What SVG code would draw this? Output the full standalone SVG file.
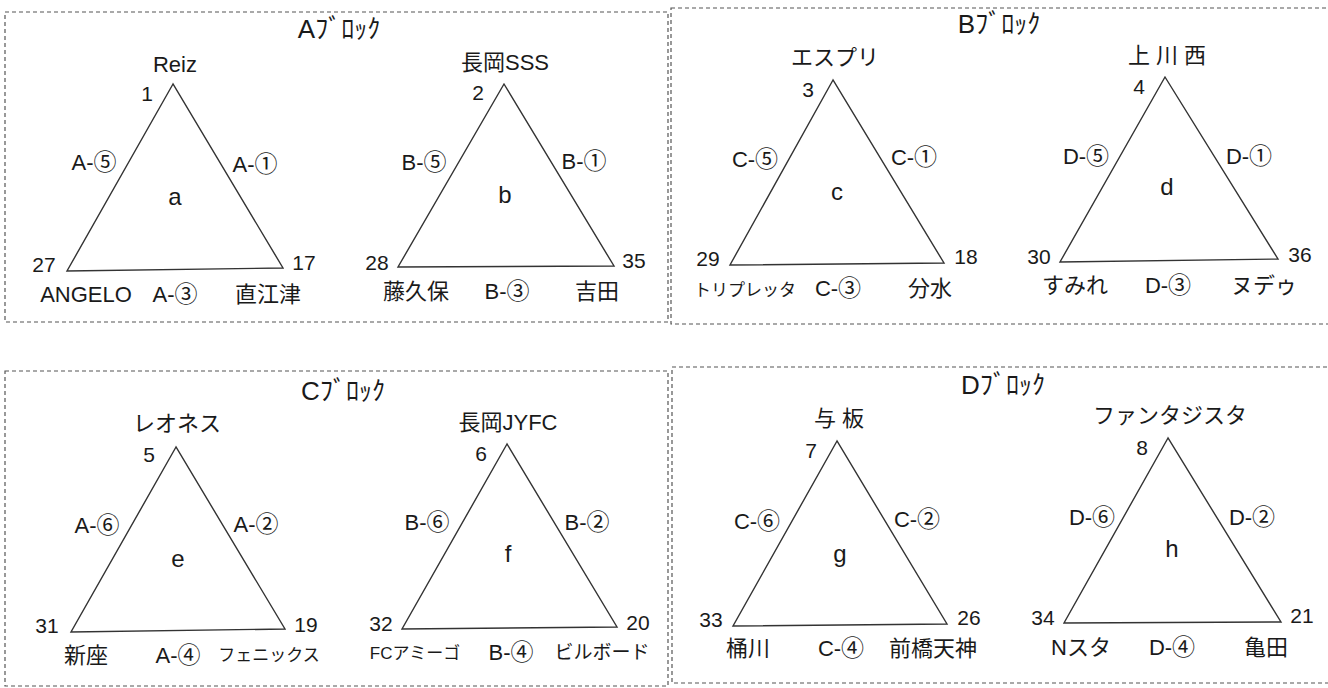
<svg xmlns="http://www.w3.org/2000/svg" width="1328" height="688" viewBox="0 0 1328 688">
<style>
  text { font-family: "Liberation Sans", "Noto Sans CJK JP", sans-serif; fill: #1a1a1a; text-anchor: middle; font-size: 22px; }
  .title { font-size: 26px; }
  .num { font-size: 21px; }
  .small { font-size: 17px; }
  .letter { font-size: 24px; }
  .c { font-size: 23px; }
  .box { fill: none; stroke: #555; stroke-width: 1.2; stroke-dasharray: 4 3; }
  .tri { fill: none; stroke: #333; stroke-width: 1.4; stroke-linejoin: miter; }
</style>
<rect width="1328" height="688" fill="#fff"/>

<g id="blockA">
  <rect class="box" x="5" y="12" width="663" height="310"/>
  <text class="title" x="339" y="38">Aﾌﾞﾛｯｸ</text>
  <g id="tri-a">
    <polygon class="tri" points="173,84 67,271 283,268"/>
    <text x="175" y="72">Reiz</text>
    <text class="num" x="147" y="101">1</text>
    <text class="num" x="44" y="272">27</text>
    <text class="num" x="304" y="270">17</text>
    <text x="94" y="170">A-<tspan class="c">⑤</tspan></text>
    <text x="255" y="172">A-<tspan class="c">①</tspan></text>
    <text class="letter" x="175" y="205">a</text>
    <text x="86" y="302">ANGELO</text>
    <text x="175" y="302">A-<tspan class="c">③</tspan></text>
    <text x="268" y="302">直江津</text>
  </g>
  <g id="tri-b">
    <polygon class="tri" points="504,84 398,267 614,266"/>
    <text x="505" y="70">長岡SSS</text>
    <text class="num" x="478" y="100">2</text>
    <text class="num" x="377" y="270">28</text>
    <text class="num" x="634" y="268">35</text>
    <text x="424" y="170">B-<tspan class="c">⑤</tspan></text>
    <text x="584" y="169">B-<tspan class="c">①</tspan></text>
    <text class="letter" x="505" y="203">b</text>
    <text x="416" y="299">藤久保</text>
    <text x="507" y="299">B-<tspan class="c">③</tspan></text>
    <text x="597" y="299">吉田</text>
  </g>
</g>

<g id="blockB">
  <rect class="box" x="671" y="8" width="665" height="316"/>
  <text class="title" x="999" y="33">Bﾌﾞﾛｯｸ</text>
  <g id="tri-c">
    <polygon class="tri" points="833,80 730,265 944,263"/>
    <text x="835" y="65">エスプリ</text>
    <text class="num" x="808" y="97">3</text>
    <text class="num" x="708" y="266">29</text>
    <text class="num" x="966" y="264">18</text>
    <text x="755" y="167">C-<tspan class="c">⑤</tspan></text>
    <text x="914" y="165">C-<tspan class="c">①</tspan></text>
    <text class="letter" x="837" y="200">c</text>
    <text class="small" x="745" y="296">トリプレッタ</text>
    <text x="838" y="296">C-<tspan class="c">③</tspan></text>
    <text x="930" y="296">分水</text>
  </g>
  <g id="tri-d">
    <polygon class="tri" points="1165,77 1060,262 1278,259"/>
    <text x="1167" y="63">上 川 西</text>
    <text class="num" x="1139" y="94">4</text>
    <text class="num" x="1039" y="264">30</text>
    <text class="num" x="1300" y="262">36</text>
    <text x="1086" y="164">D-<tspan class="c">⑤</tspan></text>
    <text x="1249" y="164">D-<tspan class="c">①</tspan></text>
    <text class="letter" x="1167" y="195">d</text>
    <text x="1075" y="293">すみれ</text>
    <text x="1168" y="293">D-<tspan class="c">③</tspan></text>
    <text x="1264" y="293">ヌデゥ</text>
  </g>
</g>

<g id="blockC">
  <rect class="box" x="5" y="371" width="663" height="315"/>
  <text class="title" x="343" y="400">Cﾌﾞﾛｯｸ</text>
  <g id="tri-e">
    <polygon class="tri" points="176,447 71,632 285,629"/>
    <text x="177" y="431">レオネス</text>
    <text class="num" x="149" y="462">5</text>
    <text class="num" x="47" y="633">31</text>
    <text class="num" x="306" y="632">19</text>
    <text x="97" y="533">A-<tspan class="c">⑥</tspan></text>
    <text x="256" y="532">A-<tspan class="c">②</tspan></text>
    <text class="letter" x="178" y="567">e</text>
    <text x="86" y="663">新座</text>
    <text x="178" y="663">A-<tspan class="c">④</tspan></text>
    <text class="small" x="269" y="661">フェニックス</text>
  </g>
  <g id="tri-f">
    <polygon class="tri" points="507,444 402,629 617,627"/>
    <text x="508" y="430">長岡JYFC</text>
    <text class="num" x="481" y="461">6</text>
    <text class="num" x="381" y="631">32</text>
    <text class="num" x="638" y="630">20</text>
    <text x="427" y="530">B-<tspan class="c">⑥</tspan></text>
    <text x="587" y="530">B-<tspan class="c">②</tspan></text>
    <text class="letter" x="508" y="562">f</text>
    <text class="small" x="415" y="659">FCアミーゴ</text>
    <text x="511" y="660">B-<tspan class="c">④</tspan></text>
    <text class="small" x="602" y="659" style="font-size:19px">ビルボード</text>
  </g>
</g>

<g id="blockD">
  <rect class="box" x="672" y="367" width="664" height="316"/>
  <text class="title" x="1003" y="394">Dﾌﾞﾛｯｸ</text>
  <g id="tri-g">
    <polygon class="tri" points="837,441 733,626 947,624"/>
    <text x="839" y="426">与 板</text>
    <text class="num" x="811" y="458">7</text>
    <text class="num" x="711" y="627">33</text>
    <text class="num" x="969" y="625">26</text>
    <text x="757" y="529">C-<tspan class="c">⑥</tspan></text>
    <text x="917" y="527">C-<tspan class="c">②</tspan></text>
    <text class="letter" x="840" y="562">g</text>
    <text x="748" y="656">桶川</text>
    <text x="841" y="656">C-<tspan class="c">④</tspan></text>
    <text x="933" y="656">前橋天神</text>
  </g>
  <g id="tri-h">
    <polygon class="tri" points="1168,438 1064,623 1281,622"/>
    <text x="1170" y="423">ファンタジスタ</text>
    <text class="num" x="1142" y="455">8</text>
    <text class="num" x="1043" y="625">34</text>
    <text class="num" x="1302" y="623">21</text>
    <text x="1092" y="525">D-<tspan class="c">⑥</tspan></text>
    <text x="1252" y="525">D-<tspan class="c">②</tspan></text>
    <text class="letter" x="1172" y="557">h</text>
    <text x="1081" y="655">Nスタ</text>
    <text x="1172" y="655">D-<tspan class="c">④</tspan></text>
    <text x="1266" y="655">亀田</text>
  </g>
</g>
</svg>
